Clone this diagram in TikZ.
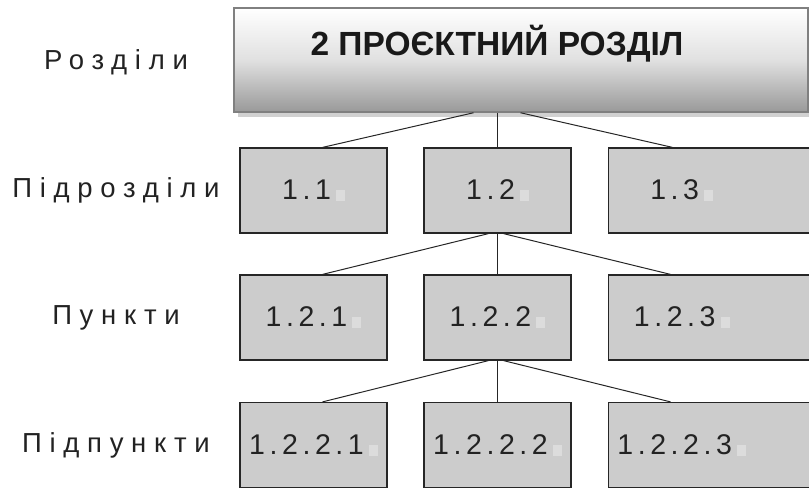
\documentclass[tikz,border=0pt]{standalone}
\usepackage{fontspec}
\setmainfont{Liberation Sans}
\newfontfamily\numfont[LetterSpace=16]{Liberation Sans}
\newfontfamily\lvlfont[LetterSpace=28]{Liberation Sans}
\usetikzlibrary{calc,shadows}

\definecolor{cellgray}{HTML}{CCCCCC}
\definecolor{markgray}{HTML}{DCDCDC}
\definecolor{inkgray}{HTML}{222222}

\newcommand{\mk}{\hspace{5pt}\textcolor{markgray}{\rule[-1.5pt]{9pt}{11pt}}}
\newcommand{\farcell}[1]{\makebox[147pt]{#1}\hspace*{54pt}}

\tikzset{
    cell/.style={draw=black!85, fill=cellgray, line width=1.2pt, minimum width=147pt,
        minimum height=85pt, inner sep=0pt, text=inkgray,
        font=\numfont\fontsize{28.5}{30}\selectfont},
    level/.style={text=inkgray, font=\lvlfont\fontsize{27.5}{30}\selectfont},
    link/.style={line width=1pt, black!85},
}

\begin{document}
\begin{tikzpicture}[x=1pt, y=-1pt]
            \useasboundingbox (0,0) rectangle (809,488);

            \node (R) at (521,60) [draw=black!50, line width=1.5pt, minimum width=574pt,
                minimum height=104pt, top color=white, bottom color=black!40, middle color=black!12,
                drop shadow={shadow xshift=4pt, shadow yshift=-5pt, fill=black!18, opacity=1}] {};
            \node (T) at (497,44) [text=black!90] {\fontsize{33.5}{36}\selectfont\bfseries 2 ПРОЄКТНИЙ РОЗДІЛ};

            \node (S1) at (313.5,190.5) [cell] {1.1\mk};
            \node (S2) at ($(S1) + (184,0)$) [cell] {1.2\mk};
            \node (S3) at ($(S2.east) + (36,0)$) [cell, anchor=west] {\farcell{1.3\mk}};

            \node (P1) at ($(S1) + (0,127)$) [cell] {1.2.1\mk};
            \node (P2) at ($(S2) + (0,127)$) [cell] {1.2.2\mk};
            \node (P3) at ($(S3) + (0,127)$) [cell] {\farcell{1.2.3\mk}};

            \node (Q1) at ($(P1) + (0,127.5)$) [cell] {1.2.2.1\mk};
            \node (Q2) at ($(P2) + (0,127.5)$) [cell] {1.2.2.2\mk};
            \node (Q3) at ($(P3) + (0,127.5)$) [cell] {\farcell{1.2.2.3\mk}};

            \node (L1) at (116,62) [level] {Розділи};
            \node (L2) at (L1 |- S1) [level] {Підрозділи};
            \node (L3) at (L1 |- P1) [level] {Пункти};
            \node (L4) at (L1 |- Q1) [level] {Підпункти};

            \draw [link] (S2.north |- R.south) -- (S2.north);
            \draw [link] ($(S2.north |- R.south) + (-24,0)$) -- ($(S1.north) + (9,0)$);
            \draw [link] ($(S2.north |- R.south) + (23,0)$) -- ($(S3.north west) + (65,0)$);

            \foreach \p/\a/\b/\c in {S2/P1/P2/P3, P2/Q1/Q2/Q3}
                {
                    \draw [link] (\p.south) -- (\b.north);
                    \draw [link] ($(\p.south) + (-9,0)$) -- ($(\a.north) + (9,0)$);
                    \draw [link] ($(\p.south) + (6,0)$) -- ($(\c.north west) + (63,0)$);
                }

        \end{tikzpicture}
\end{document}
